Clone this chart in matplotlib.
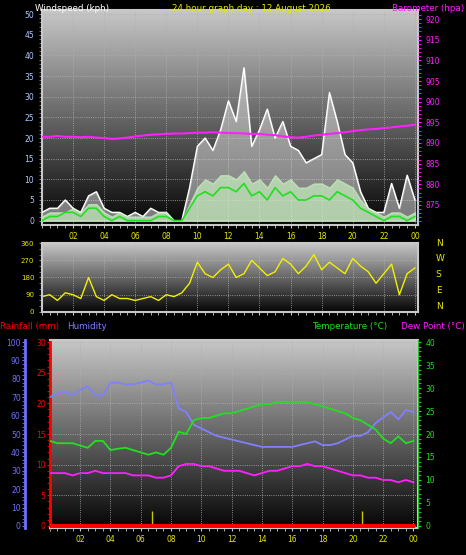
import numpy as np
import matplotlib
matplotlib.use("Agg")
import matplotlib.pyplot as plt

# half-hourly readings, hour 0 .. 24
hours = np.arange(49) / 2.0
gust = [2, 3, 3, 5, 3, 2, 6, 7, 3, 2, 2, 1, 2, 1, 3, 2, 2, 0, 0, 8, 18, 20, 17, 22, 29, 24, 37, 18,
        22, 27, 20, 24, 18, 17, 14, 15, 16, 31, 24, 16, 14, 7, 3, 2, 2, 9, 3, 11, 5]
wind_hi = [1, 2, 2, 2, 3, 2, 4, 4, 2, 1, 2, 1, 1, 1, 1, 2, 2, 0, 0, 4, 8, 10, 9, 11, 11, 10, 12, 9,
           10, 8, 11, 9, 10, 8, 8, 9, 9, 8, 10, 9, 8, 5, 3, 2, 1, 2, 2, 1, 2]
wind_avg = [0, 1, 1, 2, 2, 1, 3, 3, 1, 0, 1, 0, 0, 0, 0, 1, 1, 0, 0, 3, 6, 7, 6, 8, 8, 7, 9, 6,
            7, 5, 8, 6, 7, 5, 5, 6, 6, 5, 7, 6, 5, 3, 2, 1, 0, 1, 1, 0, 1]
baro = [891.5, 891.5, 891.7, 891.5, 891.5, 891.4, 891.5, 891.3, 891.2, 891.0, 891.1, 891.3,
        891.6, 891.8, 892.0, 892.1, 892.2, 892.3, 892.3, 892.4, 892.5, 892.5, 892.6, 892.5,
        892.4, 892.4, 892.3, 892.2, 892.2, 892.0, 891.9, 891.6, 891.4, 891.3, 891.5, 891.8,
        892.0, 892.2, 892.4, 892.6, 892.9, 893.1, 893.3, 893.4, 893.6, 893.8, 894.0, 894.2, 894.4]
direction = [80, 90, 60, 100, 90, 70, 180, 80, 60, 90, 70, 70, 60, 70, 80, 60, 90, 80, 100, 150,
             260, 200, 180, 220, 250, 180, 200, 270, 230, 190, 210, 280, 250, 200, 240, 300, 220,
             260, 230, 200, 280, 240, 210, 150, 200, 250, 90, 200, 230]
temp = [18.5, 18, 18, 18, 17.5, 17, 18.5, 18.5, 16.5, 16.8, 17, 16.5, 16, 15.5, 16, 15.5, 17,
        20.5, 20, 23, 23.5, 23.5, 24, 24.5, 24.5, 25, 25.5, 26, 26.5, 26.5, 27, 27, 27, 27, 27,
        26.5, 26, 25.5, 25, 24.5, 23.5, 23, 22, 21, 19, 18, 19.5, 18, 18.5]
humidity = [70, 72, 73, 71, 74, 76, 71, 71, 78, 78, 77, 77, 78, 79, 77, 77, 78, 64, 62, 55, 53,
            51, 49, 48, 47, 46, 45, 44, 43, 43, 43, 43, 43, 44, 45, 46, 44, 44, 45, 47, 49, 49,
            51, 56, 59, 62, 58, 63, 62]
dew = [11.5, 11.5, 11.5, 11, 11.5, 11.5, 12, 11.5, 11.5, 11.5, 11.5, 11, 11, 11, 10.5, 10.5, 11,
       13, 13.5, 13.5, 13, 13, 12.5, 12, 12, 12, 11.5, 11, 11.5, 12, 12, 12.5, 13, 13, 13.5, 13,
       13, 12.5, 12, 11.5, 11, 11, 10.5, 10.5, 10, 10, 9.5, 10, 9.5]
rain = [0] * 49
rain_marks = [6.75, 20.6]
xticks = [2, 4, 6, 8, 10, 12, 14, 16, 18, 20, 22, 24]
xlabels = ['02', '04', '06', '08', '10', '12', '14', '16', '18', '20', '22', '00']

fig = plt.figure(figsize=(4.66, 5.55), dpi=100, facecolor='black')
grad = np.linspace(0.78, 0.02, 256).reshape(-1, 1)
FS = 6.3


def base(ax):
    ax.set_facecolor('black')
    ax.imshow(grad, cmap='gray', vmin=0, vmax=1, aspect='auto', extent=[0, 1, 0, 1],
              transform=ax.transAxes, zorder=0)
    ax.set_xlim(0, 24.2)
    ax.set_xticks(xticks)
    ax.set_xticklabels(xlabels, color='#e8e800', fontsize=5.5)
    ax.set_xticks(np.arange(0, 24.5, 0.5), minor=True)
    ax.grid(True, color='#b0b0b0', linestyle=':', linewidth=0.6)
    for s in ax.spines.values():
        s.set_color('#c8c8c8')
        s.set_linewidth(1.5)
    ax.tick_params(axis='x', which='both', colors='#c8c8c8', length=2, labelcolor='#e8e800')


# wind / barometer
ax1 = fig.add_axes([0.090, 0.595, 0.807, 0.387])
base(ax1)
ax1.fill_between(hours, gust, color='#d8d8d8', alpha=0.55, zorder=2)
ax1.plot(hours, gust, color='white', lw=1, zorder=3)
ax1.fill_between(hours, wind_hi, color='#c8f0c0', alpha=0.7, zorder=3)
ax1.plot(hours, wind_avg, color='#20e020', lw=1.2, zorder=4)
ax1.set_ylim(-1, 51)
ax1.set_yticks(range(0, 51, 5))
ax1.set_yticks(range(0, 51, 1), minor=True)
ax1.tick_params(axis='y', which='both', colors='#808080', labelcolor='#b0c8ff', labelsize=5.5, length=2)
ax1b = ax1.twinx()
ax1b.plot(hours, baro, color='#ff20ff', lw=1.5)
ax1b.set_ylim(870.2, 922.2)
ax1b.set_yticks(range(875, 921, 5))
ax1b.set_yticks(range(871, 922, 1), minor=True)
ax1b.tick_params(axis='y', which='both', colors='#ff20ff', labelcolor='#ff20ff', labelsize=5.5, length=2)
for s in ax1b.spines.values():
    s.set_visible(False)
fig.text(0.075, 0.993, 'Windspeed (kph)', color='white', fontsize=FS, va='top')
fig.text(0.37, 0.993, '24 hour graph day : 12 August 2026', color='#e8e800', fontsize=FS, va='top')
fig.text(0.997, 0.993, 'Barometer (hpa)', color='#ff20ff', fontsize=FS, va='top', ha='right')

# wind direction
ax2 = fig.add_axes([0.090, 0.438, 0.807, 0.124])
base(ax2)
ax2.tick_params(axis='x', labelbottom=False)
ax2.plot(hours, direction, color='#f0f000', lw=1)
ax2.set_ylim(0, 360)
ax2.set_yticks(range(0, 361, 90))
ax2.set_yticks(range(0, 361, 30), minor=True)
ax2.tick_params(axis='y', which='both', colors='#808080', labelcolor='#e8e800', labelsize=5, length=2)
for i, c in enumerate(['N', 'W', 'S', 'E', 'N']):
    fig.text(0.935, 0.562 - i * 0.0285, c, color='#e8e800', fontsize=6.5, va='center')

# rain / humidity / temperature
ax3 = fig.add_axes([0.107, 0.049, 0.79, 0.338])
base(ax3)
ax3.plot(hours, rain, color='red', lw=3, zorder=5)
ax3.vlines(rain_marks, 0, 2.5, color='#c8c800', lw=1, zorder=4)
ax3.set_ylim(-0.3, 30.3)
ax3.set_yticks(range(0, 31, 5))
ax3.set_yticks(range(0, 31, 1), minor=True)
ax3.spines['left'].set_color('red')
ax3.spines['left'].set_linewidth(2)
ax3.tick_params(axis='y', which='both', colors='red', labelcolor='red', labelsize=5.5, length=2, pad=1)
ax3.set_xlim(0, 24.3)

axh = ax3.twinx()
axh.yaxis.set_label_position('left')
axh.yaxis.tick_left()
axh.spines['left'].set_position(('outward', 18))
axh.spines['left'].set_color('#7070ff')
axh.spines['left'].set_linewidth(2)
for k in ['right', 'top', 'bottom']:
    axh.spines[k].set_visible(False)
axh.plot(hours, humidity, color='#8080ff', lw=1.3)
axh.set_ylim(-1, 101)
axh.set_yticks(range(0, 101, 10))
axh.set_yticks(range(0, 101, 2), minor=True)
axh.tick_params(axis='y', which='both', colors='#7070ff', labelcolor='#7070ff', labelsize=5.5, length=2, pad=1)

axt = ax3.twinx()
for k in ['left', 'top', 'bottom']:
    axt.spines[k].set_visible(False)
axt.spines['right'].set_color('#20c020')
axt.plot(hours, temp, color='#20e020', lw=1.3)
axt.plot(hours, dew, color='#ff20ff', lw=1.3)
axt.set_ylim(-0.4, 40.4)
axt.set_yticks(range(0, 41, 5))
axt.set_yticks(range(0, 41, 1), minor=True)
axt.tick_params(axis='y', which='both', colors='#20e020', labelcolor='#20e020', labelsize=5.5, length=2)

fig.text(0.0, 0.411, 'Rainfall (mm)', color='red', fontsize=FS, va='center')
fig.text(0.143, 0.411, 'Humidity', color='#8080ff', fontsize=FS, va='center')
fig.text(0.67, 0.411, 'Temperature (°C)', color='#20e020', fontsize=FS, va='center')
fig.text(0.997, 0.411, 'Dew Point (°C)', color='#ff20ff', fontsize=FS, va='center', ha='right')

fig.savefig('out.png', dpi=100, facecolor='black')
